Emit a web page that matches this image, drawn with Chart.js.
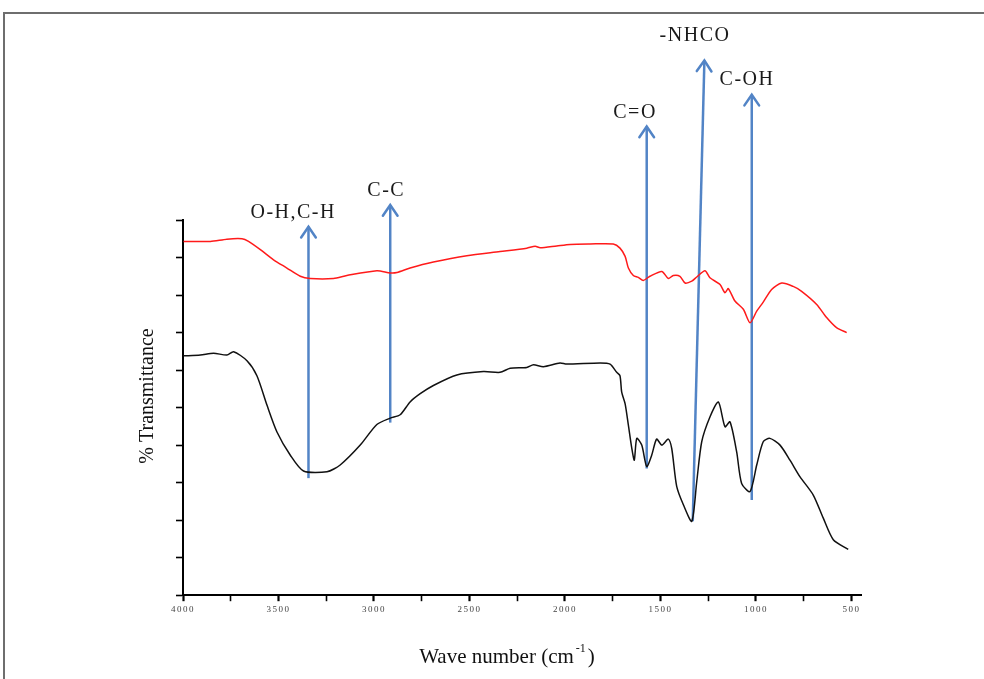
<!DOCTYPE html>
<html>
<head>
<meta charset="utf-8">
<script src="https://cdn.jsdelivr.net/npm/chart.js@4"></script>
<style>
html, body { margin: 0; padding: 0; background: #fff; }
#wrap { position: relative; width: 984px; height: 679px; overflow: hidden; }
#frame { position: absolute; left: 3px; top: 12px; width: 1000px; height: 700px;
         border-top: 2px solid #6e6e6e; border-left: 2px solid #6e6e6e; }
canvas { position: absolute; left: 0; top: 0; }
</style>
</head>
<body>
<div id="wrap">
  <div id="frame"></div>
  <canvas id="myChart" width="984" height="679"></canvas>
</div>
<script>
// upper (red) spectrum
var redWave = [3997,3857,3770,3691,3657,3595,3526,3456,3386,3334,3212,3142,2985,2915,2880,2811,2689,2514,2340,2200,
               2156,2130,2043,1973,1869,1747,1712,1685,1668,1642,1616,1590,1555,1493,1459,1433,1398,1371,1336,1310,
               1267,1241,1188,1162,1145,1110,1066,1031,996,962,918,865,805,761,682,630,578,525];
var redT = [9.43,9.43,9.49,9.50,9.43,9.21,8.94,8.72,8.50,8.44,8.44,8.52,8.65,8.59,8.60,8.72,8.88,9.05,9.16,9.25,
            9.30,9.26,9.31,9.35,9.36,9.36,9.25,9.03,8.72,8.52,8.47,8.39,8.50,8.63,8.44,8.52,8.50,8.32,8.37,8.48,
            8.65,8.46,8.28,8.06,8.17,7.84,7.62,7.26,7.57,7.81,8.15,8.32,8.23,8.10,7.75,7.40,7.13,7.00];

// lower (black) spectrum
var blackWave = [3997,3909,3840,3770,3735,3665,3613,3560,3508,3438,3369,3246,3177,3072,2985,2915,2863,2811,2758,2689,
                 2566,2427,2340,2287,2200,2165,2113,2026,1991,1816,1764,1729,1712,1703,1685,1668,1650,1637,1624,1598,
                 1572,1546,1520,1493,1459,1441,1415,1380,1336,1310,1284,1241,1197,1162,1136,1101,1075,1031,996,962,
                 927,874,822,770,700,648,595,517];
var blackT = [6.38,6.40,6.45,6.40,6.49,6.25,5.85,5.06,4.35,3.73,3.31,3.29,3.47,4.00,4.55,4.72,4.81,5.15,5.37,5.59,
              5.87,5.96,5.94,6.05,6.07,6.14,6.09,6.19,6.16,6.19,6.16,5.94,5.85,5.41,5.10,4.53,3.91,3.60,4.18,4.00,
              3.43,3.73,4.16,4.00,4.16,3.91,2.90,2.41,1.97,3.03,4.09,4.75,5.15,4.49,4.62,3.82,2.98,2.76,3.47,4.09,
              4.18,4.00,3.60,3.16,2.67,2.06,1.48,1.22];

// band assignments: arrow from (baseWave, baseT) up to (tipWave, tipT)
var bandNames = ["O-H,C-H", "C-C", "C=O", "-NHCO", "C-OH"];
var bandBaseWave = [3343, 2915, 1572, 1331, 1022];
var bandBaseT    = [3.12, 4.60, 3.38, 1.97, 2.54];
var bandTipWave  = [3343, 2915, 1572, 1270, 1022];
var bandTipT     = [9.82, 10.40, 12.49, 14.25, 13.34];
var labelWave    = [3423, 2936, 1633, 1319, 1047];
var labelT       = [10.18, 10.79, 12.86, 14.92, 13.73];

var xTicks = [4000,3750,3500,3250,3000,2750,2500,2250,2000,1750,1500,1250,1000,750,500];
var yTicks = [0,1,2,3,4,5,6,7,8,9,10];

var arrowColor = "#5284c6";
var serif = "'Liberation Serif', 'DejaVu Serif', serif";

function toPoints(xs, ys) {
    var pts = [];
    for (var i = 0; i < xs.length; i++) pts.push({x: xs[i], y: ys[i]});
    return pts;
}

var datasets = [
    { data: toPoints(redWave, redT), borderColor: "#ff1a1a", borderWidth: 1.5, tension: 0.25 },
    { data: toPoints(blackWave, blackT), borderColor: "#111", borderWidth: 1.5, tension: 0.25 }
];
for (var i = 0; i < bandNames.length; i++) {
    datasets.push({
        data: [{x: bandBaseWave[i], y: bandBaseT[i]}, {x: bandTipWave[i], y: bandTipT[i]}],
        borderColor: arrowColor, borderWidth: 2.5, clip: false, tension: 0
    });
}

var decor = {
    id: "decor",
    beforeDraw: function(chart) {
        chart.ctx.letterSpacing = "1.5px";
    },
    afterDraw: function(chart) {
        var ctx = chart.ctx;
        var xs = chart.scales.x, ys = chart.scales.y;
        ctx.save();
        // arrow heads + band labels
        for (var i = 0; i < bandNames.length; i++) {
            var meta = chart.getDatasetMeta(2 + i);
            var b = meta.data[0], t = meta.data[1];
            var ang = Math.atan2(t.y - b.y, t.x - b.x);
            ctx.strokeStyle = arrowColor;
            ctx.lineWidth = 2.5;
            ctx.lineCap = "round";
            ctx.beginPath();
            ctx.moveTo(t.x - 13 * Math.cos(ang - 0.6), t.y - 13 * Math.sin(ang - 0.6));
            ctx.lineTo(t.x, t.y);
            ctx.lineTo(t.x - 13 * Math.cos(ang + 0.6), t.y - 13 * Math.sin(ang + 0.6));
            ctx.stroke();

            ctx.letterSpacing = "1.5px";
            ctx.font = "20px " + serif;
            ctx.fillStyle = "#1a1a1a";
            ctx.textAlign = "center";
            ctx.textBaseline = "middle";
            ctx.fillText(bandNames[i], xs.getPixelForValue(labelWave[i]), ys.getPixelForValue(labelT[i]));
        }

        // axis titles
        ctx.letterSpacing = "0px";
        ctx.fillStyle = "#111";
        ctx.font = "20px " + serif;
        ctx.save();
        ctx.translate(chart.chartArea.left - 35, 396);
        ctx.rotate(-Math.PI / 2);
        ctx.textAlign = "center";
        ctx.textBaseline = "middle";
        ctx.fillText("% Transmittance", 0, 0);
        ctx.restore();

        var main = "Wave number (cm", sup = "-1", close = ")";
        ctx.font = "21px " + serif;
        var w1 = ctx.measureText(main).width;
        var w3 = ctx.measureText(close).width;
        ctx.font = "12px " + serif;
        var w2 = ctx.measureText(sup).width;
        var x0 = 507 - (w1 + w2 + w3 + 4) / 2;
        var base = 663;
        ctx.textAlign = "left";
        ctx.textBaseline = "alphabetic";
        ctx.font = "21px " + serif;
        ctx.fillText(main, x0, base);
        ctx.font = "12px " + serif;
        ctx.fillText(sup, x0 + w1 + 2, base - 11);
        ctx.font = "21px " + serif;
        ctx.fillText(close, x0 + w1 + w2 + 4, base);
        ctx.restore();
    }
};

var ctx = document.getElementById("myChart").getContext("2d");
var myChart = new Chart(ctx, {
    type: "line",
    data: { datasets: datasets },
    options: {
        responsive: false,
        animation: false,
        layout: { padding: { left: 176, right: 123, top: 220, bottom: 61 } },
        elements: { point: { radius: 0 } },
        plugins: { legend: { display: false }, tooltip: { enabled: false } },
        scales: {
            x: {
                type: "linear",
                reverse: true,
                min: 450,
                max: 4000,
                afterBuildTicks: function(scale) {
                    scale.ticks = xTicks.map(function(v) { return {value: v}; });
                },
                grid: {
                    drawOnChartArea: false,
                    tickLength: 6,
                    tickColor: "#000",
                    tickWidth: function(c) { return c.tick && c.tick.value % 500 === 0 ? 2.2 : 1.6; }
                },
                border: { color: "#000", width: 2 },
                ticks: {
                    autoSkip: false,
                    maxRotation: 0,
                    padding: 3,
                    color: "#444",
                    font: { family: serif, size: 9 },
                    callback: function(v) { return v % 500 === 0 ? String(v) : ""; }
                }
            },
            y: {
                type: "linear",
                min: 0,
                max: 10,
                afterBuildTicks: function(scale) {
                    scale.ticks = yTicks.map(function(v) { return {value: v}; });
                },
                grid: { drawOnChartArea: false, tickLength: 7, tickColor: "#000", tickWidth: 1.6 },
                border: { color: "#000", width: 2 },
                ticks: { display: false }
            }
        }
    },
    plugins: [decor]
});
</script>
</body>
</html>
